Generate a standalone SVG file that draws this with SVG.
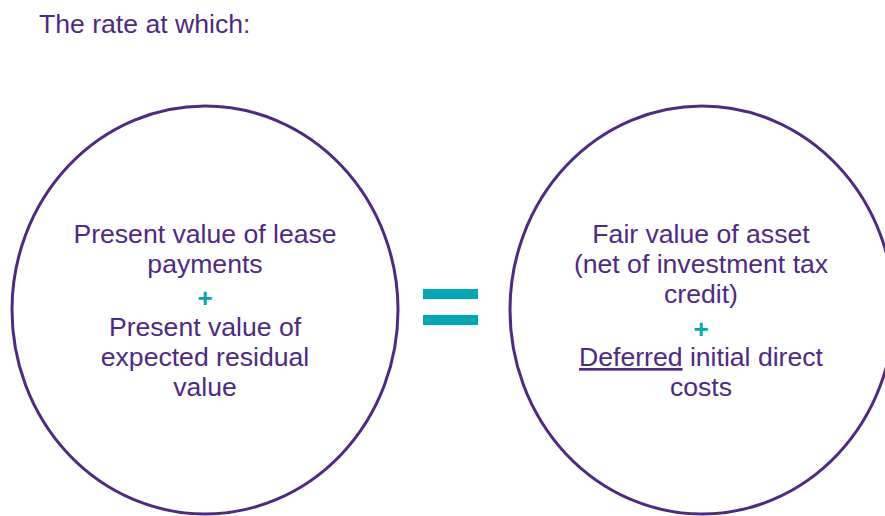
<svg xmlns="http://www.w3.org/2000/svg" width="885" height="516" viewBox="0 0 885 516">
<style>
.t{font-family:"Liberation Sans",Arial,sans-serif;font-size:26.6px;fill:#4E2A84;text-anchor:middle}
.p{font-family:"Liberation Sans",Arial,sans-serif;font-size:26px;font-weight:bold;fill:#00A7B5;text-anchor:middle}
.e{fill:none;stroke:#4E2A84;stroke-width:3}
</style>
<rect width="885" height="516" fill="#fff"/>
<text x="39" y="33" style="font-family:'Liberation Sans',Arial,sans-serif;font-size:26.6px;fill:#4E2A84">The rate at which:</text>
<g id="left">
<ellipse class="e" cx="205" cy="310" rx="193" ry="204"/>
<text class="t" x="205" y="243">Present value of lease</text>
<text class="t" x="205" y="273">payments</text>
<text class="p" x="205" y="307">+</text>
<text class="t" x="205" y="336">Present value of</text>
<text class="t" x="205" y="366">expected residual</text>
<text class="t" x="205" y="396">value</text>
</g>
<g id="equals">
<rect x="423" y="289" width="55" height="10" fill="#00A7B5"/>
<rect x="423" y="315" width="55" height="10" fill="#00A7B5"/>
</g>
<g id="right">
<ellipse class="e" cx="702" cy="310" rx="192" ry="204"/>
<text class="t" x="701" y="243">Fair value of asset</text>
<text class="t" x="701" y="273">(net of investment tax</text>
<text class="t" x="701" y="303">credit)</text>
<text class="p" x="701" y="338">+</text>
<text class="t" x="701" y="366"><tspan text-decoration="underline">Deferred</tspan> initial direct</text>
<text class="t" x="701" y="396">costs</text>
</g>
<g id="connectors"/>
</svg>
